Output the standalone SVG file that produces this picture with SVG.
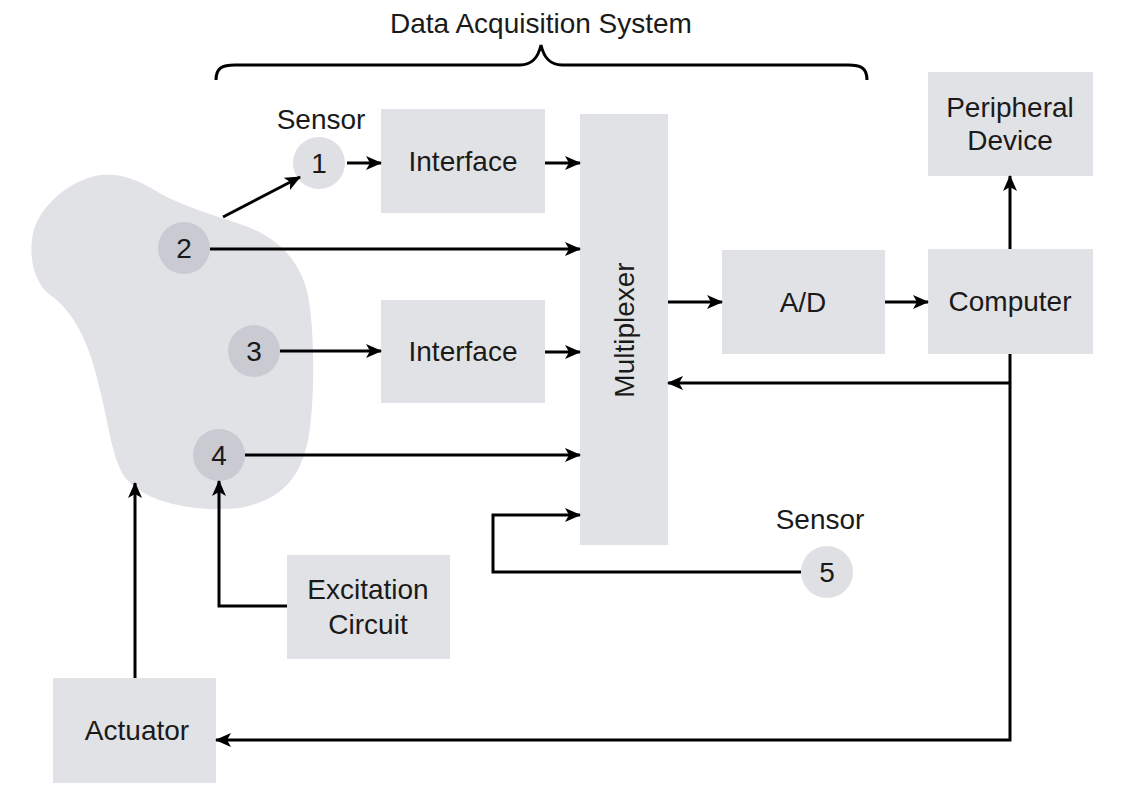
<svg xmlns="http://www.w3.org/2000/svg" width="1126" height="796" viewBox="0 0 1126 796">
<style>
  .box{fill:#e1e2e5}
  .t{font-family:"Liberation Sans",Arial,sans-serif;font-size:28px;fill:#1a1a1a;text-anchor:middle}
  .c1{fill:#dfe0e4}
  .c2{fill:#c9cad2}
  .ln{fill:none;stroke:#000;stroke-width:3}
  .ar{fill:none;stroke:#000;stroke-width:3;marker-end:url(#ah)}
</style>
<defs>
  <marker id="ah" viewBox="0 0 16 14" refX="15" refY="7" markerWidth="16" markerHeight="14" markerUnits="userSpaceOnUse" orient="auto">
    <path d="M0,0 L16,7 L0,14 L4,7 Z" fill="#000"/>
  </marker>
</defs>
<rect width="1126" height="796" fill="#fff"/>

<g id="blob">
  <path d="M33,233 C40,205 70,180 100,175 C130,172 150,188 167,197 C190,208 215,216 240,224 C275,236 300,258 308,295 C316,340 314,410 308,440 C300,480 280,500 240,508 C200,512 150,505 127,480 C112,462 108,420 100,390 C90,345 75,312 50,295 C35,283 28,260 33,233 Z" fill="#e1e2e6"/>
</g>

<g id="title">
  <text class="t" x="541" y="33">Data Acquisition System</text>
  <path class="ln" d="M216,80 C216,68 222,65 235,65 L520,65 C532,65 538,58 541,45 C544,58 550,65 562,65 L848,65 C861,65 867,68 867,80" stroke-width="2.5"/>
</g>

<g id="sensor1">
  <text class="t" x="321" y="129">Sensor</text>
  <circle class="c1" cx="319" cy="163" r="26"/>
  <text class="t" x="319" y="173">1</text>
</g>
<g id="sensor2"><circle class="c2" cx="184" cy="248" r="26"/><text class="t" x="184" y="258">2</text></g>
<g id="sensor3"><circle class="c2" cx="254" cy="351" r="26"/><text class="t" x="254" y="361">3</text></g>
<g id="sensor4"><circle class="c2" cx="219" cy="455" r="26"/><text class="t" x="219" y="465">4</text></g>
<g id="sensor5">
  <text class="t" x="820" y="529">Sensor</text>
  <circle class="c1" cx="827" cy="572" r="26"/>
  <text class="t" x="827" y="582">5</text>
</g>

<g id="interface1"><rect class="box" x="381" y="109" width="164" height="104"/><text class="t" x="463" y="171">Interface</text></g>
<g id="interface2"><rect class="box" x="381" y="300" width="164" height="103"/><text class="t" x="463" y="361">Interface</text></g>
<g id="multiplexer"><rect class="box" x="580" y="114" width="88" height="431"/><text class="t" transform="translate(634,330) rotate(-90)">Multiplexer</text></g>
<g id="ad"><rect class="box" x="722" y="250" width="163" height="104"/><text class="t" x="803" y="312">A/D</text></g>
<g id="computer"><rect class="box" x="928" y="249" width="165" height="105"/><text class="t" x="1010" y="311">Computer</text></g>
<g id="peripheral"><rect class="box" x="928" y="72" width="165" height="104"/><text class="t" x="1010" y="117">Peripheral</text><text class="t" x="1010" y="150">Device</text></g>
<g id="excitation"><rect class="box" x="287" y="555" width="163" height="104"/><text class="t" x="368" y="599">Excitation</text><text class="t" x="368" y="634">Circuit</text></g>
<g id="actuator"><rect class="box" x="53" y="678" width="163" height="105"/><text class="t" x="137" y="740">Actuator</text></g>

<g id="connectors">
  <path class="ar" d="M223,217 L300,177"/>
  <path class="ar" d="M347,163 L381,163"/>
  <path class="ar" d="M545,163 L580,163"/>
  <path class="ar" d="M210,249 L580,249"/>
  <path class="ar" d="M280,351 L381,351"/>
  <path class="ar" d="M545,352 L580,352"/>
  <path class="ar" d="M245,455 L580,455"/>
  <path class="ar" d="M668,302 L722,302"/>
  <path class="ar" d="M885,302 L928,302"/>
  <path class="ar" d="M1010,249 L1010,176"/>
  <path class="ar" d="M1010,354 L1010,740 L216,740"/>
  <path class="ar" d="M1010,383 L668,383"/>
  <path class="ar" d="M801,572 L493,572 L493,515 L580,515"/>
  <path class="ar" d="M287,606 L219,606 L219,481"/>
  <path class="ar" d="M135,678 L135,483"/>
</g>
</svg>
